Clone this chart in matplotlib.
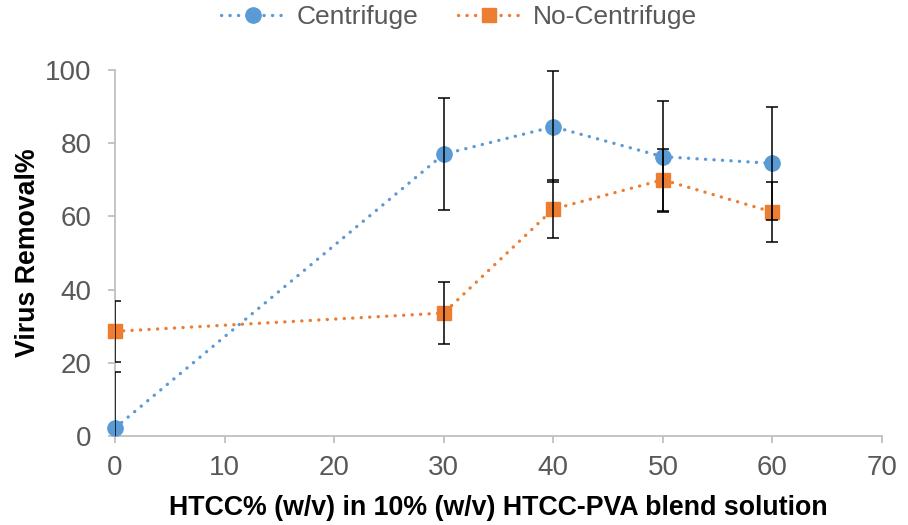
"""Virus removal vs HTCC content
"""
import numpy as np
import matplotlib
matplotlib.use("Agg")
import matplotlib.pyplot as plt

plt.rcParams['font.family'] = ['Liberation Sans', 'DejaVu Sans']

# data
htcc = [0, 30, 40, 50, 60]
centrifuge = [2.2, 77.0, 84.5, 76.3, 74.5]
centrifuge_err = [15.3, 15.3, 15.2, 15.2, 15.4]
no_centrifuge = [28.6, 33.6, 62.0, 70.0, 61.2]
no_centrifuge_err = [8.3, 8.4, 8.0, 8.5, 8.3]

x_ticks = [0, 10, 20, 30, 40, 50, 60, 70]
y_ticks = [0, 20, 40, 60, 80, 100]

BLUE = "#5B9BD5"
ORANGE = "#ED7D31"
GREY_TEXT = "#595959"
GREY_AXIS = "#BFBFBF"

fig = plt.figure(figsize=(9.08, 5.25), dpi=100)
ax = fig.add_axes([0.1267, 0.1695, 0.8447, 0.6972])

dots = (0, (0.05, 2.5))
ax.plot(htcc, centrifuge, color=BLUE, linestyle=dots, linewidth=2.4,
        dash_capstyle='round', marker='o', markersize=11,
        markeredgecolor=BLUE, label='Centrifuge', clip_on=False, zorder=3)
ax.plot(htcc, no_centrifuge, color=ORANGE, linestyle=dots, linewidth=2.4,
        dash_capstyle='round', marker='s', markersize=10,
        markeredgecolor=ORANGE, label='No-Centrifuge', clip_on=False,
        zorder=3)

for vals, errs in [(centrifuge, centrifuge_err),
                   (no_centrifuge, no_centrifuge_err)]:
    ax.errorbar(htcc, vals, yerr=errs, fmt='none', ecolor='black',
                elinewidth=1.1, capsize=4.5, capthick=1.1, zorder=4)

ax.set_xlim(0, 70)
ax.set_ylim(0, 100)
ax.set_xticks(x_ticks)
ax.set_yticks(y_ticks)

for side in ['top', 'right']:
    ax.spines[side].set_visible(False)
for side in ['left', 'bottom']:
    ax.spines[side].set_color(GREY_AXIS)
    ax.spines[side].set_linewidth(1.3)

ax.tick_params(axis='both', colors=GREY_AXIS, labelcolor=GREY_TEXT,
               labelsize=20, length=5, width=1.3, direction='out')
ax.tick_params(axis='x', pad=9)
ax.tick_params(axis='y', pad=12)

ax.set_xlabel('HTCC% (w/v) in 10% (w/v) HTCC-PVA blend solution',
              fontsize=19.3, fontweight='bold', labelpad=10)
ax.set_ylabel('Virus Removal%', fontsize=19.3, fontweight='bold', labelpad=3)

fig.legend(*ax.get_legend_handles_labels(), loc='center',
           bbox_to_anchor=(459 / 908, 1 - 17 / 525), ncol=2,
           frameon=False, fontsize=19, labelcolor=GREY_TEXT,
           handlelength=2.4, handletextpad=0.45, columnspacing=1.5,
           borderaxespad=0.0, borderpad=0.0)

fig.savefig('out.png', dpi=100)
